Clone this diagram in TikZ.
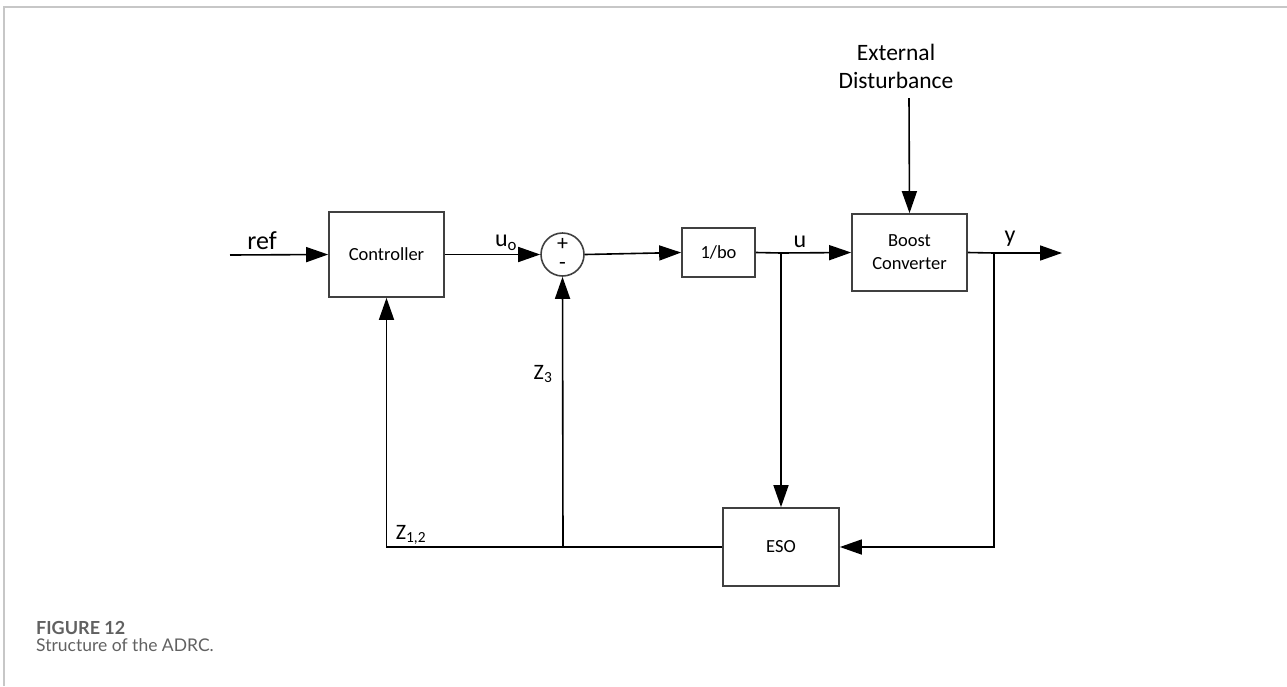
\documentclass[tikz,border=0pt]{standalone}
\usepackage{fontspec}
\setmainfont{Carlito}
\newfontfamily\captionfont{Lato}
\usetikzlibrary{arrows.meta}
\begin{document}
\begin{tikzpicture}[x=1pt, y=-1pt,
  block/.style={draw=black!75, line width=1.7pt, align=center, inner sep=0pt,
    font=\fontsize{18.5}{23}\selectfont},
  sig/.style={line width=1.6pt, -{Triangle[length=22pt,width=15pt]}},
  wire/.style={line width=1.6pt},
  lbl/.style={font=\fontsize{24}{28}\selectfont},
  sgn/.style={font=\fontsize{22}{24}\selectfont, inner sep=0pt}]
% Page size and the grey frame
\useasboundingbox (0,0) rectangle (1287,686);
\draw[black!22, line width=2pt] (4,686) -- (4,7) -- (1287,7);

% Blocks of the loop
\node[block, minimum width=115pt, minimum height=85pt] (ctrl) at (386.5,254.5) {Controller};
\node[draw=black!75, line width=1.6pt, circle, minimum size=43pt, inner sep=0pt] (sum) at (562.5,254.5) {};
\node[sgn] (plus) at (562.5,244) {+};
\node[sgn] (minus) at (562.5,266) {-};
\node[block, minimum width=73pt, minimum height=49pt] (gain) at (718.5,252.5) {1/bo};
\node[block, minimum width=115pt, minimum height=77pt] (plant) at (909.5,252.5) {Boost\\Converter};
\node[block, minimum width=116pt, minimum height=78pt] (eso) at (781,547) {ESO};

% Free ends and branch points
\coordinate (refin) at (230,255);
\coordinate (ubr) at (781,253);
\coordinate (ybr) at (994,253);
\coordinate (yout) at (1062,253);
\coordinate (zbr) at (563,547);
\coordinate (dist) at (909,98);

% Connectors
\draw[sig] (refin) -- (ctrl.west);
\draw[sig] (ctrl.east) -- (sum.west);
\draw[sig] (sum.east) -- (gain.west);
\draw[wire] (gain.east) -- (ubr);
\draw[sig] (ubr) -- (plant.west);
\draw[sig] (ubr) -- (eso.north);
\draw[wire] (plant.east) -- (ybr);
\draw[sig] (ybr) -- (yout);
\draw[sig] (ybr) |- (eso.east);
\draw[sig] (eso.west) -| (ctrl.south);
\draw[sig] (zbr) -- (sum.south);
\draw[sig] (dist) -- (plant.north);

% Signal labels
\node[font=\fontsize{26}{30}\selectfont] (reflbl) at (262,241) {ref};
\node[lbl] (u0lbl) at (506,243) {u\textsubscript{o}};
\node[lbl] (ulbl) at (800,242) {u};
\node[lbl] (ylbl) at (1010,239) {y};
\node[font=\fontsize{22}{24}\selectfont] (z3lbl) at (543,374) {Z\textsubscript{3}};
\node[font=\fontsize{22}{24}\selectfont] (z12lbl) at (411,535) {Z\textsubscript{1,2}};
\node[align=center, font=\fontsize{23.5}{28}\selectfont] (distlbl) at (896,66) {External\\Disturbance};

% Caption
\node[anchor=base west, inner sep=0pt, text=black!62, font=\captionfont\bfseries\fontsize{18}{20}\selectfont] (figno) at (36,634) {FIGURE 12};
\node[anchor=base west, inner sep=0pt, text=black!62, font=\captionfont\fontsize{17.5}{20}\selectfont] (figtxt) at (36,651) {Structure of the ADRC.};
\end{tikzpicture}
\end{document}
